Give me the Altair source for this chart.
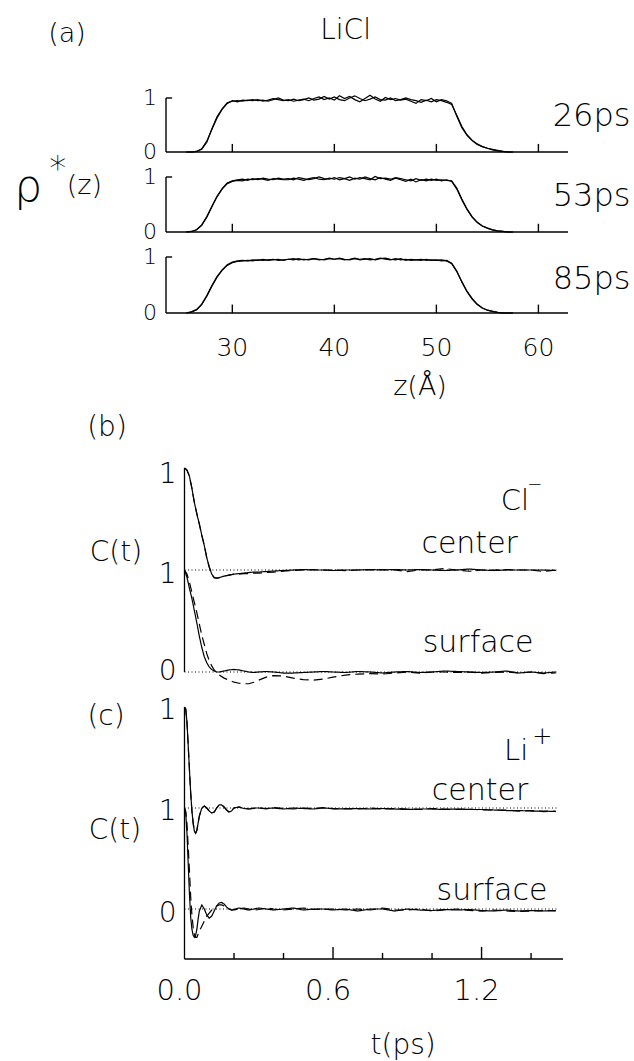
import altair as alt
import pandas as pd

FONT = "DejaVu Sans"
INK = "#000000"

# ---------------- panel (a): density profiles ----------------
Z = [25.5, 26.0, 26.5, 27.0, 27.5, 28.0, 28.5, 29.0, 29.5, 30.0,
     30.5, 31.0, 31.5, 32.0, 32.5, 33.0, 33.5, 34.0, 34.5, 35.0,
     35.5, 36.0, 36.5, 37.0, 37.5, 38.0, 38.5, 39.0, 39.5, 40.0,
     40.5, 41.0, 41.5, 42.0, 42.5, 43.0, 43.5, 44.0, 44.5, 45.0,
     45.5, 46.0, 46.5, 47.0, 47.5, 48.0, 48.5, 49.0, 49.5, 50.0,
     50.5, 51.0, 51.5, 52.0, 52.5, 53.0, 53.5, 54.0, 54.5, 55.0,
     55.5, 56.0, 56.5, 57.0, 57.5]

RHO_26A = [0, 0, 0.01, 0.05, 0.18, 0.43, 0.65, 0.80, 0.91, 0.94,
           0.95, 0.94, 0.96, 0.95, 0.97, 0.94, 0.96, 0.99, 0.97, 0.95,
           0.97, 0.94, 0.96, 0.98, 0.95, 0.99, 1.02, 0.97, 1.00, 0.96,
           1.04, 0.99, 1.03, 0.97, 0.93, 0.99, 1.05, 0.98, 0.94, 1.01,
           0.97, 0.99, 0.96, 0.98, 0.94, 0.90, 0.97, 0.95, 0.99, 0.93,
           0.97, 0.95, 0.90, 0.66, 0.45, 0.31, 0.21, 0.14, 0.10, 0.07,
           0.04, 0.02, 0.01, 0.0, 0.0]
RHO_26B = [0, 0, 0.01, 0.06, 0.20, 0.42, 0.63, 0.79, 0.90, 0.95,
           0.93, 0.96, 0.95, 0.97, 0.95, 0.96, 0.94, 0.97, 1.00, 0.96,
           0.95, 0.98, 0.95, 0.97, 1.00, 0.96, 0.98, 1.03, 0.98, 1.02,
           0.97, 0.95, 1.00, 1.04, 0.99, 0.95, 0.98, 1.02, 0.97, 0.96,
           1.00, 0.95, 0.97, 1.00, 0.97, 0.95, 0.92, 0.96, 0.93, 0.97,
           0.95, 0.92, 0.88, 0.68, 0.47, 0.32, 0.22, 0.15, 0.10, 0.07,
           0.05, 0.03, 0.01, 0.0, 0.0]
RHO_53A = [0, 0.01, 0.04, 0.12, 0.27, 0.46, 0.64, 0.78, 0.88, 0.92,
           0.94, 0.93, 0.96, 0.95, 0.97, 0.96, 0.94, 0.97, 0.96, 0.95,
           0.95, 0.98, 0.96, 0.94, 0.97, 0.99, 0.96, 0.95, 0.98, 0.96,
           0.99, 0.97, 0.94, 0.98, 0.96, 1.00, 0.97, 0.95, 0.99, 0.96,
           0.94, 0.98, 0.95, 0.92, 0.96, 0.91, 0.95, 0.93, 0.96, 0.94,
           0.95, 0.94, 0.93, 0.80, 0.60, 0.42, 0.28, 0.18, 0.11, 0.07,
           0.04, 0.02, 0.01, 0.0, 0.0]
RHO_53B = [0, 0.01, 0.04, 0.13, 0.28, 0.47, 0.65, 0.79, 0.89, 0.93,
           0.95, 0.96, 0.94, 0.97, 0.95, 0.98, 0.96, 0.95, 0.98, 0.96,
           0.97, 0.95, 0.99, 0.97, 0.95, 0.97, 1.00, 0.97, 0.96, 0.99,
           0.95, 0.97, 1.00, 0.96, 0.99, 0.97, 0.95, 1.01, 0.97, 0.98,
           0.96, 0.99, 0.97, 0.95, 0.93, 0.97, 0.94, 0.96, 0.94, 0.96,
           0.93, 0.95, 0.92, 0.78, 0.58, 0.41, 0.27, 0.17, 0.11, 0.07,
           0.04, 0.02, 0.01, 0.0, 0.0]
RHO_85A = [0, 0.02, 0.06, 0.15, 0.30, 0.48, 0.64, 0.76, 0.85, 0.90,
           0.92, 0.93, 0.94, 0.93, 0.95, 0.94, 0.95, 0.96, 0.94, 0.95,
           0.96, 0.95, 0.97, 0.95, 0.96, 0.97, 0.96, 0.95, 0.97, 0.96,
           0.98, 0.96, 0.95, 0.97, 0.96, 0.97, 0.95, 0.96, 0.98, 0.96,
           0.95, 0.97, 0.95, 0.96, 0.94, 0.95, 0.96, 0.94, 0.95, 0.94,
           0.95, 0.93, 0.88, 0.74, 0.55, 0.38, 0.25, 0.15, 0.09, 0.05,
           0.03, 0.01, 0.0, 0.0, 0.0]
RHO_85B = [0, 0.02, 0.06, 0.16, 0.31, 0.49, 0.65, 0.77, 0.86, 0.91,
           0.93, 0.94, 0.93, 0.95, 0.94, 0.96, 0.94, 0.95, 0.96, 0.94,
           0.96, 0.97, 0.95, 0.96, 0.95, 0.97, 0.95, 0.96, 0.98, 0.96,
           0.97, 0.95, 0.96, 0.98, 0.95, 0.96, 0.97, 0.95, 0.97, 0.98,
           0.96, 0.95, 0.97, 0.94, 0.96, 0.95, 0.94, 0.96, 0.94, 0.95,
           0.93, 0.94, 0.89, 0.75, 0.56, 0.39, 0.26, 0.16, 0.09, 0.05,
           0.03, 0.01, 0.0, 0.0, 0.0]

TIMES_A = ["26ps", "53ps", "85ps"]
Z_TICKS = [30, 40, 50, 60]
Z_TICK_LABELS = ["30", "40", "50", "60"]

# ---------------- panel (b): Cl- correlation functions ----------------
T_B = [0, 0.01, 0.02, 0.03, 0.04, 0.05, 0.06, 0.07, 0.08, 0.09,
       0.10, 0.11, 0.12, 0.13, 0.14, 0.16, 0.18, 0.20, 0.22, 0.24,
       0.26, 0.28, 0.30, 0.33, 0.36, 0.40, 0.44, 0.48, 0.52, 0.56,
       0.60, 0.65, 0.70, 0.75, 0.80, 0.85, 0.90, 0.95, 1.00, 1.05,
       1.10, 1.15, 1.20, 1.25, 1.30, 1.35, 1.40, 1.45, 1.50]
CL_CENTER_SOLID = [1.0, 0.98, 0.92, 0.80, 0.66, 0.55, 0.45, 0.34, 0.24, 0.12,
                   0.03, -0.04, -0.075, -0.08, -0.075, -0.06, -0.05, -0.04, -0.035, -0.03,
                   -0.025, -0.02, -0.02, -0.015, -0.01, -0.005, 0.0, 0.005, 0.0, 0.0,
                   -0.005, 0.0, 0.0, 0.005, 0.0, 0.005, 0.0, 0.005, 0.0, -0.005,
                   0.0, 0.01, 0.0, -0.005, 0.0, 0.0, 0.0, 0.0, -0.005]
CL_CENTER_DASH = [1.0, 0.98, 0.92, 0.80, 0.66, 0.55, 0.45, 0.34, 0.24, 0.12,
                  0.03, -0.04, -0.075, -0.08, -0.075, -0.06, -0.05, -0.04, -0.04, -0.035,
                  -0.035, -0.03, -0.03, -0.025, -0.02, -0.01, -0.005, 0.0, 0.005, 0.0,
                  0.0, -0.005, 0.0, 0.0, 0.005, 0.0, -0.015, 0.0, 0.0, 0.015,
                  0.0, -0.012, 0.0, 0.0, 0.005, 0.0, 0.0, -0.015, 0.0]
CL_SURF_SOLID = [1.0, 0.93, 0.82, 0.72, 0.60, 0.48, 0.35, 0.24, 0.15, 0.09,
                 0.05, 0.025, 0.01, 0.0, 0.0, 0.01, 0.02, 0.025, 0.02, 0.01,
                 0.0, -0.005, 0.0, 0.005, 0.0, -0.01, -0.01, -0.005, 0.0, 0.005,
                 0.0, -0.005, 0.005, 0.0, -0.01, 0.0, 0.005, -0.005, 0.0, 0.01,
                 0.005, 0.0, -0.005, 0.0, 0.01, -0.01, 0.0, -0.01, 0.0]
CL_SURF_DASH = [1.0, 0.96, 0.88, 0.78, 0.68, 0.58, 0.47, 0.36, 0.27, 0.18,
                0.11, 0.06, 0.02, -0.01, -0.03, -0.06, -0.08, -0.10, -0.11, -0.115,
                -0.115, -0.10, -0.08, -0.05, -0.035, -0.04, -0.06, -0.075, -0.08, -0.07,
                -0.05, -0.03, -0.02, -0.015, -0.02, -0.01, 0.0, -0.01, 0.0, 0.0,
                -0.005, 0.0, -0.01, -0.005, 0.0, -0.01, 0.0, -0.015, -0.01]

# ---------------- panel (c): Li+ correlation functions ----------------
T_C = [0, 0.005, 0.01, 0.015, 0.02, 0.025, 0.03, 0.035, 0.04, 0.045,
       0.05, 0.055, 0.06, 0.07, 0.08, 0.09, 0.10, 0.11, 0.12, 0.13,
       0.14, 0.15, 0.16, 0.17, 0.18, 0.19, 0.20, 0.22, 0.24, 0.26,
       0.28, 0.30, 0.33, 0.36, 0.40, 0.44, 0.48, 0.52, 0.56, 0.60,
       0.65, 0.70, 0.75, 0.80, 0.85, 0.90, 0.95, 1.00, 1.05, 1.10,
       1.15, 1.20, 1.25, 1.30, 1.35, 1.40, 1.45, 1.50]
LI_CENTER_SOLID = [1.0, 0.98, 0.85, 0.62, 0.38, 0.15, -0.03, -0.15, -0.23, -0.25,
                   -0.22, -0.15, -0.08, 0.0, 0.02, 0.0, -0.03, -0.05, -0.04, 0.0,
                   0.03, 0.03, 0.01, -0.02, -0.04, -0.03, 0.0, 0.01, -0.005, -0.01,
                   0.0, 0.0, -0.005, 0.0, -0.01, 0.0, -0.005, -0.01, 0.0, -0.005,
                   -0.01, -0.005, -0.01, -0.005, -0.01, -0.015, -0.01, -0.01, -0.015, -0.01,
                   -0.015, -0.015, -0.02, -0.025, -0.025, -0.03, -0.03, -0.035]
LI_CENTER_DASH = [1.0, 0.98, 0.85, 0.62, 0.38, 0.15, -0.03, -0.15, -0.23, -0.25,
                  -0.22, -0.15, -0.08, 0.0, 0.02, 0.0, -0.03, -0.05, -0.04, 0.0,
                  0.03, 0.03, 0.01, -0.02, -0.04, -0.03, 0.0, 0.01, 0.0, -0.01,
                  -0.005, 0.0, -0.01, 0.005, -0.005, -0.01, 0.0, -0.005, 0.005, -0.01,
                  -0.005, -0.01, 0.0, -0.01, -0.005, -0.01, -0.015, -0.005, -0.01, -0.015,
                  -0.01, -0.02, -0.02, -0.02, -0.03, -0.025, -0.035, -0.03]
LI_SURF_SOLID = [1.0, 0.95, 0.75, 0.45, 0.15, -0.08, -0.20, -0.26, -0.28, -0.26,
                 -0.20, -0.10, -0.02, 0.04, 0.0, -0.06, -0.09, -0.07, -0.02, 0.03,
                 0.06, 0.065, 0.05, 0.02, 0.0, -0.01, -0.005, 0.01, 0.0, -0.01,
                 0.0, 0.01, 0.0, -0.01, 0.0, 0.01, -0.01, 0.0, 0.0, -0.01,
                 0.0, -0.02, 0.0, 0.0, -0.02, 0.0, -0.01, -0.015, -0.005, -0.01,
                 -0.005, -0.015, -0.02, -0.01, -0.02, -0.015, -0.02, -0.015]
LI_SURF_DASH = [1.0, 0.97, 0.85, 0.62, 0.38, 0.12, -0.06, -0.18, -0.25, -0.28,
                -0.28, -0.25, -0.22, -0.17, -0.12, -0.07, -0.04, -0.01, 0.01, 0.03,
                0.04, 0.04, 0.03, 0.01, 0.0, -0.01, -0.01, 0.0, 0.01, 0.0,
                -0.01, -0.005, 0.01, 0.0, -0.01, 0.0, 0.01, -0.005, 0.0, 0.0,
                -0.01, 0.0, -0.01, 0.01, -0.01, -0.01, 0.0, -0.02, -0.01, 0.0,
                -0.015, -0.02, -0.01, -0.02, -0.025, -0.02, -0.015, -0.02]

T_MINOR = [0.2, 0.4, 0.8, 1.0, 1.4]
T_MAJOR = [0.6, 1.2]
T_LABELS = ["0.0", "0.6", "1.2"]
T_LABEL_POS = [0.0, 0.6, 1.2]

# ---------------- helpers ----------------
ZS = alt.Scale(domain=[23.5, 62.9], nice=False, zero=False)
TS = alt.Scale(domain=[-0.0747, 1.529], nice=False, zero=False)


def X(field, scale):
    return alt.X(field, type="quantitative", scale=scale, axis=None)


def Y(field, scale):
    return alt.Y(field, type="quantitative", scale=scale, axis=None)


def txt(x, y, s, xs, ys, size=26, align="center", baseline="middle", dx=0, dy=0, weight=300):
    df = pd.DataFrame({"x": [x], "y": [y], "s": [s]})
    return alt.Chart(df).mark_text(
        font=FONT, fontSize=size, align=align, baseline=baseline, dx=dx, dy=dy,
        color=INK, fontWeight=weight
    ).encode(x=X("x", xs), y=Y("y", ys), text="s:N")


def hrule(x1, x2, y, xs, ys, width=1.4, dash=None):
    df = pd.DataFrame({"x": [x1], "x2": [x2], "y": [y]})
    kw = dict(color=INK, strokeWidth=width)
    if dash is not None:
        kw["strokeDash"] = dash
    return alt.Chart(df).mark_rule(**kw).encode(x=X("x", xs), x2="x2", y=Y("y", ys))


def vrules(xvals, y1, y2, xs, ys, width=1.4):
    df = pd.DataFrame({"x": xvals, "y": [y1] * len(xvals), "y2": [y2] * len(xvals)})
    return alt.Chart(df).mark_rule(color=INK, strokeWidth=width).encode(
        x=X("x", xs), y=Y("y", ys), y2="y2")


def a_panel(curve_a, curve_b, tlabel, label_y, height, extra):
    ys = alt.Scale(domain=[0, 1], nice=False, zero=False)
    rows = []
    for name, vals in (("a", curve_a), ("b", curve_b)):
        for z, v in zip(Z, vals):
            rows.append({"z": z, "rho": v, "run": name})
    df = pd.DataFrame(rows)
    lines = alt.Chart(df).mark_line(color=INK, strokeWidth=1.2).encode(
        x=X("z", ZS), y=Y("rho", ys), detail="run:N")
    layers = [
        hrule(23.5, 62.9, 0, ZS, ys),
        vrules([23.5], 0, 1, ZS, ys),
        hrule(23.5, 24.1, 1, ZS, ys),
        vrules(Z_TICKS, 0, 0.15, ZS, ys),
        lines,
        txt(23.5, 1, "1", ZS, ys, size=22, align="right", dx=-9),
        txt(23.5, 0, "0", ZS, ys, size=22, align="right", dx=-9),
        txt(61.4, label_y, tlabel, ZS, ys, size=32, align="left"),
    ]
    layers += [f(ys) for f in extra]
    return alt.layer(*layers).properties(width=402, height=height)


a1 = a_panel(RHO_26A, RHO_26B, TIMES_A[0], 0.67, 54, [
    lambda ys: txt(13.8, 2.185, "(a)", ZS, ys, size=27),
    lambda ys: txt(41.1, 2.24, "LiCl", ZS, ys, size=28),
    lambda ys: alt.Chart(pd.DataFrame({"k": [0]})).mark_rule(opacity=0, strokeWidth=0.01).encode(
        x=alt.value(-166), x2=alt.value(468), y=alt.value(-98)),
])
a2 = a_panel(RHO_53A, RHO_53B, TIMES_A[1], 0.65, 55, [
    lambda ys: txt(10.0, 0.56, "ρ", ZS, ys, size=44, baseline="alphabetic", weight=300),
    lambda ys: txt(12.9, 1.12, "*", ZS, ys, size=34),
    lambda ys: txt(15.5, 0.84, "(z)", ZS, ys, size=27),
])


def a3_extra(ys):
    df = pd.DataFrame({"x": Z_TICKS, "y": [-0.625] * 4, "s": Z_TICK_LABELS})
    return alt.Chart(df).mark_text(font=FONT, fontSize=25, color=INK, baseline="middle",
                                   fontWeight=300).encode(
        x=X("x", ZS), y=Y("y", ys), text="s:N")


a3 = a_panel(RHO_85A, RHO_85B, TIMES_A[2], 0.61, 56, [
    a3_extra,
    lambda ys: txt(48.4, -1.32, "z(Å)", ZS, ys, size=27),
])


def corr_df(t, series):
    rows = []
    for name, style, off, vals in series:
        for tt, v in zip(t, vals):
            rows.append({"t": tt, "c": v + off, "series": name, "style": style})
    return pd.DataFrame(rows)


DASH = alt.StrokeDash("style:N", scale=alt.Scale(domain=["solid", "dashed"], range=[[1, 0], [9, 5]]),
                      legend=None)

# panel b
YB = alt.Scale(domain=[-0.098, 3.275], nice=False, zero=False)
dfb = corr_df(T_B, [
    ("cs", "solid", 1, CL_CENTER_SOLID), ("cd", "dashed", 1, CL_CENTER_DASH),
    ("ss", "solid", 0, CL_SURF_SOLID), ("sd", "dashed", 0, CL_SURF_DASH)])
lines_b = alt.Chart(dfb).mark_line(color=INK, strokeWidth=1.2).encode(
    x=X("t", TS), y=Y("c", YB), detail="series:N", strokeDash=DASH)
panel_b = alt.layer(
    hrule(0, 1.505, 1, TS, YB, width=1.2, dash=[1, 2.5]),
    hrule(0, 1.505, 0, TS, YB, width=1.2, dash=[1, 2.5]),
    vrules([0], 0, 2, TS, YB, width=1.3),
    lines_b,
    txt(0, 1.93, "1", TS, YB, size=28, align="right", dx=-8),
    txt(0, 0.95, "1", TS, YB, size=28, align="right", dx=-8),
    txt(0, 0.0, "0", TS, YB, size=28, align="right", dx=-8),
    txt(-0.313, 2.39, "(b)", TS, YB, size=28),
    txt(-0.277, 1.17, "C(t)", TS, YB, size=28),
    txt(1.335, 1.59, "Cl", TS, YB, size=29, baseline="alphabetic"),
    txt(1.415, 1.83, "−", TS, YB, size=18),
    txt(1.152, 1.17, "center", TS, YB, size=30, baseline="alphabetic"),
    txt(1.186, 0.20, "surface", TS, YB, size=30, baseline="alphabetic"),
).properties(width=397, height=344)

# panel c
YC = alt.Scale(domain=[-0.495, 2.0], nice=False, zero=False)
dfc = corr_df(T_C, [
    ("cs", "solid", 1, LI_CENTER_SOLID), ("cd", "dashed", 1, LI_CENTER_DASH),
    ("ss", "solid", 0, LI_SURF_SOLID), ("sd", "dashed", 0, LI_SURF_DASH)])
lines_c = alt.Chart(dfc).mark_line(color=INK, strokeWidth=1.2).encode(
    x=X("t", TS), y=Y("c", YC), detail="series:N", strokeDash=DASH)
tick_lab = alt.Chart(pd.DataFrame({"x": T_LABEL_POS, "y": [-0.81] * 3, "s": T_LABELS})).mark_text(
    font=FONT, fontSize=29, color=INK, baseline="middle", dx=-5, fontWeight=300).encode(
    x=X("x", TS), y=Y("y", YC), text="s:N")
anchor_c = alt.Chart(pd.DataFrame({"k": [0]})).mark_rule(opacity=0, strokeWidth=0.01).encode(
    x=alt.value(0), x2=alt.value(10), y=alt.value(354))
panel_c = alt.layer(
    hrule(0, 1.505, 1, TS, YC, width=1.2, dash=[1, 2.5]),
    hrule(0, 1.505, 0, TS, YC, width=1.2, dash=[1, 2.5]),
    vrules([0], -0.495, 2, TS, YC, width=1.3),
    hrule(0, 1.529, -0.495, TS, YC, width=1.4),
    vrules(T_MINOR, -0.495, -0.435, TS, YC, width=1.4),
    vrules(T_MAJOR, -0.495, -0.375, TS, YC, width=1.4),
    lines_c,
    tick_lab,
    txt(0.883, -1.356, "t(ps)", TS, YC, size=28),
    txt(0, 1.96, "1", TS, YC, size=28, align="right", dx=-8),
    txt(0, 0.96, "1", TS, YC, size=28, align="right", dx=-8),
    txt(0, -0.05, "0", TS, YC, size=28, align="right", dx=-8),
    txt(-0.317, 1.90, "(c)", TS, YC, size=28),
    txt(-0.281, 0.77, "C(t)", TS, YC, size=28),
    txt(1.34, 1.475, "Li", TS, YC, size=29, baseline="alphabetic"),
    txt(1.445, 1.70, "+", TS, YC, size=24),
    txt(1.194, 1.08, "center", TS, YC, size=30, baseline="alphabetic"),
    txt(1.242, 0.09, "surface", TS, YC, size=30, baseline="alphabetic"),
    anchor_c,
).properties(width=397, height=252)

chart = alt.vconcat(a1, a2, a3, panel_b, panel_c, spacing=25, bounds="flush", padding=0,
                    background="white").configure_view(strokeWidth=0)

chart.save("out.html", embed_options={"renderer": "svg", "actions": False})
